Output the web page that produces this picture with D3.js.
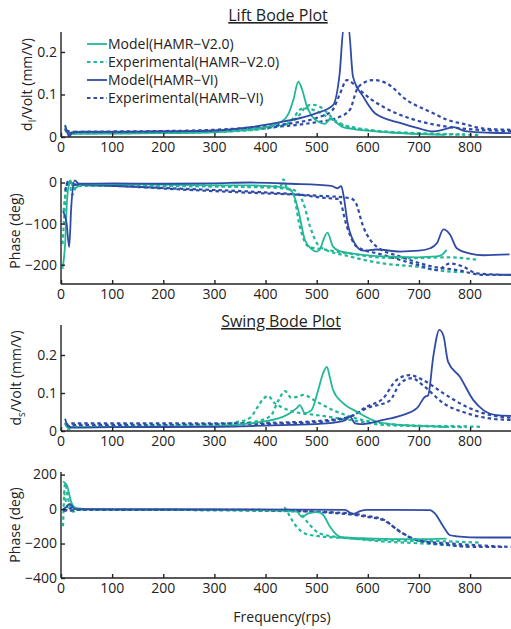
<!DOCTYPE html>
<html>
<head>
<meta charset="utf-8">
<script src="https://cdn.jsdelivr.net/npm/d3@7"></script>
<style>
	body { margin: 0; background: #fff; }
	svg { font-family: 'Open Sans', sans-serif; }
</style>
</head>
<body>
<div id="chart"></div>
<script>
const fullWidth = 511
const fullHeight = 629

const teal = '#22b897'
const blue = '#2f4ba5'

const seriesNames = ['Model(HAMR\u2212V2.0)', 'Experimental(HAMR\u2212V2.0)', 'Model(HAMR\u2212VI)', 'Experimental(HAMR\u2212VI)']
const freqTicks = [0, 100, 200, 300, 400, 500, 600, 700, 800]

// lift magnitude [freq, mm/V]
const liftMagModelV2 = [[8,0.026],[12,0.012],[16,0.004],[22,0.008],[40,0.008],[100,0.008],[200,0.009],[300,0.011],[370,0.018],[400,0.023],[430,0.035],[445,0.055],[455,0.09],[464,0.13],[472,0.11],[480,0.075],[490,0.05],[505,0.035],[516,0.031],[529,0.044],[540,0.033],[550,0.024],[575,0.018],[600,0.015],[650,0.01],[700,0.007],[750,0.005]]
const liftMagExpV2a = [[8,0.02],[14,0.006],[25,0.008],[100,0.009],[200,0.01],[300,0.012],[380,0.017],[420,0.025],[450,0.035],[465,0.05],[478,0.07],[490,0.076],[505,0.072],[520,0.058],[535,0.04],[550,0.03],[575,0.022],[600,0.017],[650,0.011],[700,0.008],[760,0.006],[820,0.005]]
const liftMagExpV2b = [[10,0.015],[25,0.008],[100,0.01],[300,0.013],[400,0.02],[440,0.03],[455,0.045],[465,0.062],[475,0.068],[490,0.065],[510,0.055],[530,0.04],[550,0.028],[600,0.016],[700,0.009],[790,0.006]]
const liftMagModelVI = [[8,0.028],[12,0.012],[16,0.002],[22,0.01],[40,0.012],[100,0.012],[200,0.013],[300,0.015],[370,0.023],[434,0.036],[500,0.056],[532,0.075],[545,0.15],[553,0.26],[562,0.26],[571,0.142],[591,0.095],[614,0.056],[663,0.033],[700,0.02],[728,0.013],[750,0.018],[767,0.023],[793,0.013],[840,0.01],[880,0.009]]
const liftMagExpVIa = [[8,0.02],[14,0.008],[25,0.012],[100,0.013],[200,0.014],[300,0.017],[400,0.025],[450,0.032],[500,0.045],[530,0.062],[545,0.1],[559,0.134],[572,0.125],[585,0.11],[605,0.09],[630,0.071],[682,0.044],[735,0.028],[793,0.019],[880,0.014]]
const liftMagExpVIb = [[10,0.015],[25,0.012],[100,0.012],[300,0.015],[400,0.022],[450,0.027],[500,0.035],[540,0.045],[565,0.064],[578,0.11],[591,0.127],[611,0.134],[637,0.126],[676,0.087],[728,0.056],[754,0.041],[790,0.03],[826,0.02],[880,0.017]]

// lift phase [freq, deg]
const liftPhModelV2 = [[3,-210],[8,-150],[12,-40],[18,5],[25,-15],[40,-5],[100,-4],[200,-5],[300,-7],[370,-7],[420,-10],[445,-14],[455,-30],[464,-67],[477,-140],[490,-162],[500,-168],[508,-158],[513,-140],[521,-122],[532,-156],[545,-167],[565,-172],[630,-180],[696,-182],[735,-180],[745,-176],[754,-164]]
const liftPhExpV2a = [[3,-150],[6,-90],[10,-10],[15,5],[22,-30],[30,-10],[60,-6],[200,-7],[300,-8],[400,-10],[430,-8],[435,8],[440,-8],[454,-26],[467,-107],[484,-156],[520,-164],[565,-173],[630,-183],[696,-184],[754,-182],[813,-188]]
const liftPhExpV2b = [[5,-70],[10,-20],[20,0],[30,-8],[100,-8],[300,-10],[400,-12],[454,-18],[474,-50],[487,-107],[506,-156],[565,-180],[630,-197],[696,-205],[761,-217],[790,-218]]
const liftPhModelVI = [[4,-70],[11,-100],[16,-157],[20,-60],[27,5],[35,-3],[100,-2],[200,-3],[300,-2],[370,0],[450,-3],[529,-8],[540,-14],[548,-9],[553,-35],[560,-95],[571,-140],[591,-166],[617,-163],[663,-168],[700,-166],[722,-160],[735,-148],[748,-114],[761,-127],[774,-160],[800,-173],[826,-177],[877,-175]]
const liftPhExpVIa = [[8,-20],[15,5],[25,-5],[100,-8],[233,-15],[370,-22],[467,-30],[520,-38],[543,-40],[559,-107],[578,-156],[630,-176],[696,-200],[735,-213],[761,-197],[787,-205],[813,-221],[880,-225]]
const liftPhExpVIb = [[10,-5],[30,-5],[100,-8],[250,-18],[389,-26],[500,-32],[565,-38],[575,-46],[591,-107],[617,-156],[663,-180],[728,-205],[774,-213],[826,-225],[880,-225]]

// swing magnitude [freq, mm/V]
const swMagModelV2 = [[8,0.02],[14,0.008],[25,0.01],[100,0.011],[200,0.012],[300,0.013],[370,0.02],[435,0.038],[461,0.06],[467,0.068],[477,0.047],[490,0.055],[503,0.108],[512,0.15],[520,0.169],[526,0.14],[532,0.108],[552,0.073],[578,0.051],[617,0.025],[663,0.016],[728,0.012],[754,0.01]]
const swMagExpV2a = [[8,0.022],[14,0.005],[25,0.012],[100,0.013],[200,0.015],[300,0.018],[350,0.025],[370,0.035],[383,0.06],[396,0.085],[405,0.092],[418,0.073],[428,0.065],[454,0.051],[500,0.042],[565,0.029],[630,0.016],[696,0.013],[793,0.01]]
const swMagExpV2b = [[10,0.015],[25,0.012],[100,0.013],[300,0.017],[380,0.025],[410,0.04],[425,0.08],[438,0.105],[450,0.088],[462,0.09],[474,0.095],[500,0.077],[532,0.055],[565,0.038],[630,0.02],[696,0.014],[793,0.012],[820,0.011]]
const swMagModelVI = [[8,0.032],[14,0.012],[25,0.009],[100,0.01],[300,0.011],[370,0.013],[450,0.016],[520,0.02],[555,0.028],[565,0.038],[575,0.02],[585,0.018],[630,0.029],[663,0.04],[696,0.06],[712,0.09],[718,0.094],[728,0.196],[740,0.266],[748,0.25],[757,0.182],[780,0.143],[806,0.082],[826,0.055],[852,0.042],[880,0.04]]
const swMagExpVIa = [[8,0.015],[20,0.02],[100,0.02],[300,0.02],[450,0.023],[530,0.03],[565,0.038],[598,0.064],[630,0.086],[656,0.134],[682,0.147],[708,0.134],[748,0.099],[793,0.064],[839,0.042],[880,0.035]]
const swMagExpVIb = [[10,0.012],[30,0.016],[100,0.016],[300,0.017],[450,0.02],[530,0.027],[570,0.04],[598,0.06],[643,0.08],[663,0.125],[686,0.139],[708,0.12],[748,0.073],[793,0.047],[839,0.033],[880,0.029]]

// swing phase [freq, deg]
const swPhModelV2 = [[4,160],[11,140],[21,33],[30,5],[50,0],[200,-2],[370,-5],[461,-15],[471,-45],[484,-25],[503,-18],[513,-35],[526,-103],[546,-161],[598,-170],[696,-175],[754,-171]]
const swPhExpV2a = [[4,-100],[8,150],[14,60],[24,-15],[33,-5],[100,-3],[300,-5],[430,-8],[435,10],[441,-5],[448,-45],[461,-103],[477,-142],[500,-156],[565,-170],[630,-188],[696,-198],[761,-210],[800,-220]]
const swPhExpV2b = [[6,100],[12,20],[20,-10],[35,-2],[100,-4],[300,-6],[467,-15],[474,-45],[487,-93],[506,-142],[565,-170],[663,-183],[761,-188],[819,-195]]
const swPhModelVI = [[4,0],[10,10],[17,30],[27,0],[100,-2],[370,-2],[555,-5],[571,-29],[585,-12],[598,-5],[722,-6],[731,-25],[748,-103],[761,-152],[774,-158],[826,-165],[880,-165]]
const swPhExpVIa = [[4,-5],[10,-10],[20,5],[40,-2],[200,-5],[370,-5],[500,-17],[571,-33],[598,-45],[630,-64],[650,-103],[669,-142],[696,-181],[761,-200],[813,-210],[880,-220]]
const swPhExpVIb = [[6,0],[15,-8],[40,-3],[200,-5],[400,-8],[565,-25],[598,-40],[630,-60],[663,-132],[689,-171],[709,-190],[761,-210],[826,-220],[866,-220]]

const svg = d3
	.select('#chart')
	.append('svg')
	.attr('width', fullWidth)
	.attr('height', fullHeight)

const x = d3.scaleLinear().domain([0, 880]).range([61, 511])

const panels = [
	{ top: 32, bottom: 137, domain: [0, 0.247], ticks: [0, 0.1, 0.2], label: 'l', labelX: 32,
		lines: [[liftMagModelV2, teal, false], [liftMagExpV2a, teal, true], [liftMagExpV2b, teal, true],
			[liftMagModelVI, blue, false], [liftMagExpVIa, blue, true], [liftMagExpVIb, blue, true]] },
	{ top: 178, bottom: 284, domain: [-247, 11], ticks: [-200, -100, 0], label: null, labelX: 20,
		lines: [[liftPhModelV2, teal, false], [liftPhExpV2a, teal, true], [liftPhExpV2b, teal, true],
			[liftPhModelVI, blue, false], [liftPhExpVIa, blue, true], [liftPhExpVIb, blue, true]] },
	{ top: 325, bottom: 431, domain: [0, 0.279], ticks: [0, 0.1, 0.2], label: 's', labelX: 21,
		lines: [[swMagModelV2, teal, false], [swMagExpV2a, teal, true], [swMagExpV2b, teal, true],
			[swMagModelVI, blue, false], [swMagExpVIa, blue, true], [swMagExpVIb, blue, true]] },
	{ top: 472, bottom: 578, domain: [-400, 215], ticks: [-400, -200, 0, 200], label: null, labelX: 20,
		lines: [[swPhModelV2, teal, false], [swPhExpV2a, teal, true], [swPhExpV2b, teal, true],
			[swPhModelVI, blue, false], [swPhExpVIa, blue, true], [swPhExpVIb, blue, true]] },
]

const defs = svg.append('defs')

panels.forEach((p, i) => {
	const y = d3.scaleLinear().domain(p.domain).range([p.bottom, p.top])
	const g = svg.append('g')

	defs.append('clipPath')
		.attr('id', 'clip-' + i)
		.append('rect')
		.attr('x', x(0))
		.attr('y', p.top)
		.attr('width', x(880) - x(0))
		.attr('height', p.bottom - p.top)

	const line = d3.line()
		.x((d) => x(d[0]))
		.y((d) => y(d[1]))
		.curve(d3.curveMonotoneX)

	// dashed first so solid sit on top
	const ordered = p.lines.filter((l) => l[2]).concat(p.lines.filter((l) => !l[2]))
	g.append('g')
		.attr('clip-path', 'url(#clip-' + i + ')')
		.selectAll('path')
		.data(ordered)
		.enter()
		.append('path')
		.attr('d', (d) => line(d[0]))
		.attr('fill', 'none')
		.attr('stroke', (d) => d[1])
		.attr('stroke-width', (d) => (d[2] ? 2.2 : 1.8))
		.attr('stroke-dasharray', (d) => (d[2] ? '3.5,3' : null))
		.attr('stroke-linejoin', 'round')

	const fmt = (d) => (d === 0 ? '0' : p.domain[1] < 1 ? d3.format('.1f')(d) : d3.format('d')(d))

	const yAxis = g.append('g')
		.attr('transform', 'translate(' + x(0) + ',0)')
		.call(d3.axisRight(y).tickValues(p.ticks).tickSize(4).tickFormat(''))
	yAxis.select('.domain').attr('d', 'M0,' + p.top + 'V' + p.bottom)

	g.selectAll('.ylab')
		.data(p.ticks)
		.enter()
		.append('text')
		.attr('x', x(0) - 4)
		.attr('y', (d) => y(d))
		.attr('dy', '0.35em')
		.attr('text-anchor', 'end')
		.attr('font-size', 14)
		.attr('fill', '#222')
		.text(fmt)

	const xAxis = g.append('g')
		.attr('transform', 'translate(0,' + p.bottom + ')')
		.call(d3.axisTop(x).tickValues(freqTicks).tickSize(4).tickFormat(''))
	xAxis.select('.domain').attr('d', 'M' + x(0) + ',0H' + x(880))

	g.selectAll('.xlab')
		.data(freqTicks)
		.enter()
		.append('text')
		.attr('x', (d) => x(d))
		.attr('y', p.bottom + 15)
		.attr('text-anchor', 'middle')
		.attr('font-size', 14)
		.attr('fill', '#222')
		.text((d) => d)

	g.selectAll('.domain, .tick line').attr('stroke', '#222').attr('stroke-width', 1.4)

	const yl = g.append('text')
		.attr('transform', 'translate(' + p.labelX + ',' + (p.top + p.bottom) / 2 + ') rotate(-90)')
		.attr('text-anchor', 'middle')
		.attr('font-size', 14)
		.attr('fill', '#222')
	if (p.label) {
		yl.append('tspan').text('d')
		yl.append('tspan').attr('font-size', 10).attr('dy', 4).text(p.label)
		yl.append('tspan').attr('dy', -4).text('/Volt (mm/V)')
	} else {
		yl.text('Phase (deg)')
	}
})

// titles
const titles = [['Lift Bode Plot', 278, 21], ['Swing Bode Plot', 281, 327]]
svg.selectAll('.title')
	.data(titles)
	.enter()
	.append('text')
	.attr('x', (d) => d[1])
	.attr('y', (d) => d[2])
	.attr('text-anchor', 'middle')
	.attr('font-size', 16)
	.attr('fill', '#222')
	.attr('text-decoration', 'underline')
	.text((d) => d[0])

svg.append('text')
	.attr('x', 282)
	.attr('y', 622)
	.attr('text-anchor', 'middle')
	.attr('font-size', 14)
	.attr('fill', '#222')
	.text('Frequency(rps)')

// legend
const legend = svg.append('g')
	.selectAll('g')
	.data(seriesNames)
	.enter()
	.append('g')
	.attr('transform', (_d, i) => 'translate(87,' + (44 + i * 18) + ')')

legend.append('line')
	.attr('x1', 0)
	.attr('x2', 20)
	.attr('stroke', (_d, i) => (i < 2 ? teal : blue))
	.attr('stroke-width', (_d, i) => (i % 2 ? 2.2 : 1.8))
	.attr('stroke-dasharray', (_d, i) => (i % 2 ? '3.5,3' : null))

legend.append('text')
	.attr('x', 21)
	.attr('dy', '0.35em')
	.attr('font-size', 14)
	.attr('fill', '#222')
	.text((d) => d)
</script>
</body>
</html>
